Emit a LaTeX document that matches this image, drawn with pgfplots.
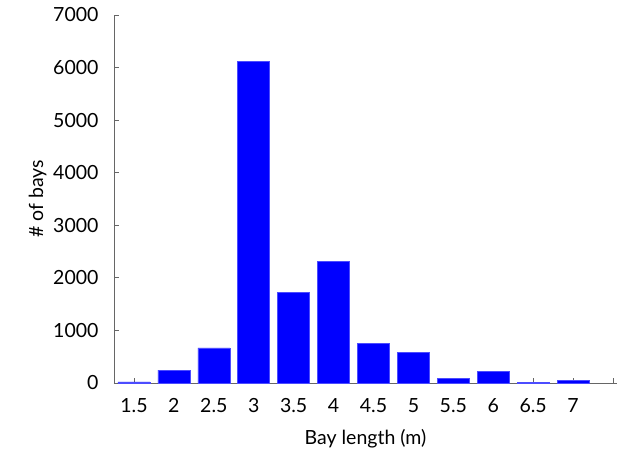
\documentclass[border=0pt]{standalone}
\usepackage{pgfplots}
\pgfplotsset{compat=1.18}
\usepackage{fontspec}
\setmainfont{Lato}
\begin{document}
\begin{tikzpicture}
\begin{axis}[
  scale only axis,
  width=503pt, height=368pt,
  xmin=1.25, xmax=7.55,
  ymin=0, ymax=7000,
  axis lines*=left,
  axis line style={draw=gray!80!black, line width=0.8pt},
  tick style={draw=gray!80!black, line width=0.8pt},
  tick align=inside,
  major tick length=5pt,
  xtick={1.5,2,...,7.5},
  xticklabels={1.5,2,2.5,3,3.5,4,4.5,5,5.5,6,6.5,7,},
  ytick={0,1000,...,7000},
  /pgf/number format/assume math mode=true,
  /pgf/number format/1000 sep={},
  ticklabel style={font=\fontsize{19.5}{22}\selectfont},
  label style={font=\fontsize{19.5}{22}\selectfont},
  xlabel={Bay length (m)},
  ylabel={\# of bays},
  xlabel style={yshift=-10pt},
  ylabel style={yshift=0pt},
  xticklabel style={yshift=-12pt},
  yticklabel style={xshift=-12pt},
  clip=false,
]
\addplot[ybar, bar width=32pt, fill=blue, draw=blue!70!white, line width=0.5pt]
coordinates {
(1.5,20) (2,245) (2.5,670) (3,6120) (3.5,1730) (4,2320) (4.5,755) (5,576) (5.5,82) (6,215) (6.5,12) (7,50)
};
\path ([xshift=-114pt,yshift=-72pt]rel axis cs:0,0) rectangle ([xshift=2pt,yshift=15pt]rel axis cs:1,1);
\end{axis}
\end{tikzpicture}
\end{document}
